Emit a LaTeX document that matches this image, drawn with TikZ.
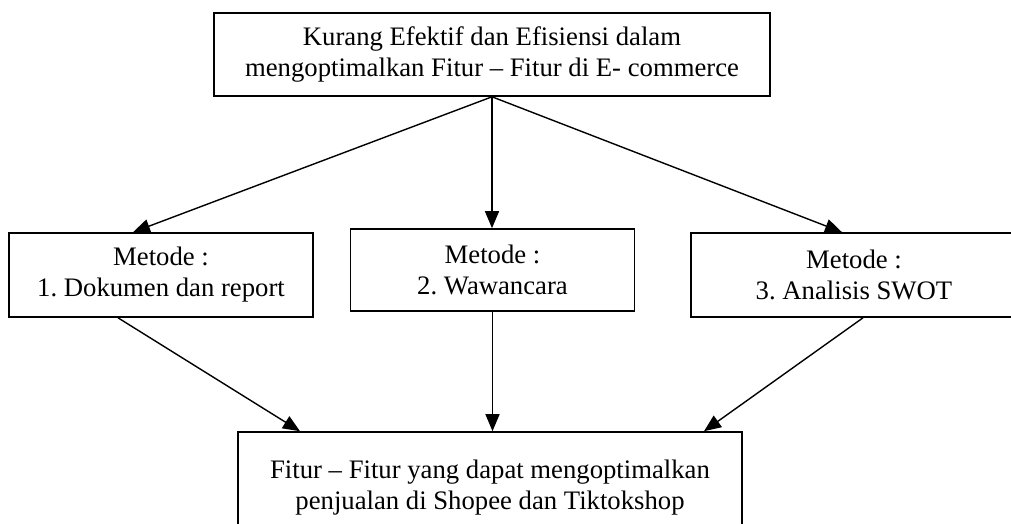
\documentclass[tikz,border=0pt]{standalone}
\usepackage{fontspec}
\setmainfont{Liberation Serif}
\usetikzlibrary{arrows.meta}
\frenchspacing
\begin{document}
\begin{tikzpicture}[x=1pt,y=-1pt,
  box/.style={draw, line width=1.6pt, inner sep=0pt, align=center, font=\fontsize{26.7}{31}\selectfont},
  arr/.style={line width=1.4pt, -{Triangle[length=17pt,width=14pt]}}]
\clip (0,0) rectangle (1011,524);
\fill[white] (0,0) rectangle (1011,524);
\node[box, minimum width=556pt, minimum height=83pt] (T) at (492,54.5) {Kurang Efektif dan Efisiensi dalam\\mengoptimalkan Fitur – Fitur di E- commerce};
\node[box, minimum width=304pt, minimum height=84pt] (L) at (161,275) {Metode :\\1. Dokumen dan report};
\node[box, minimum width=284pt, minimum height=82pt] (M) at (492.5,270) {Metode :\\2. Wawancara};
\node[box, minimum width=326pt, minimum height=84pt] (R) at (854,275) {Metode :\\3. Analisis SWOT};
\node[box, minimum width=504pt, minimum height=112pt] (B) at (490,488) {Fitur – Fitur yang dapat mengoptimalkan\\penjualan di Shopee dan Tiktokshop};
\draw[arr] (T.south) -- ([xshift=-28pt]L.north);
\draw[arr] (T.south) -- (T.south |- M.north);
\draw[arr] (T.south) -- ([xshift=-12pt]R.north);
\draw[arr] ([xshift=-43pt]L.south) -- ([xshift=-190pt]B.north);
\draw[arr] (M.south) -- (M.south |- B.north);
\draw[arr] ([xshift=9pt]R.south) -- ([xshift=214pt]B.north);
\end{tikzpicture}
\end{document}
